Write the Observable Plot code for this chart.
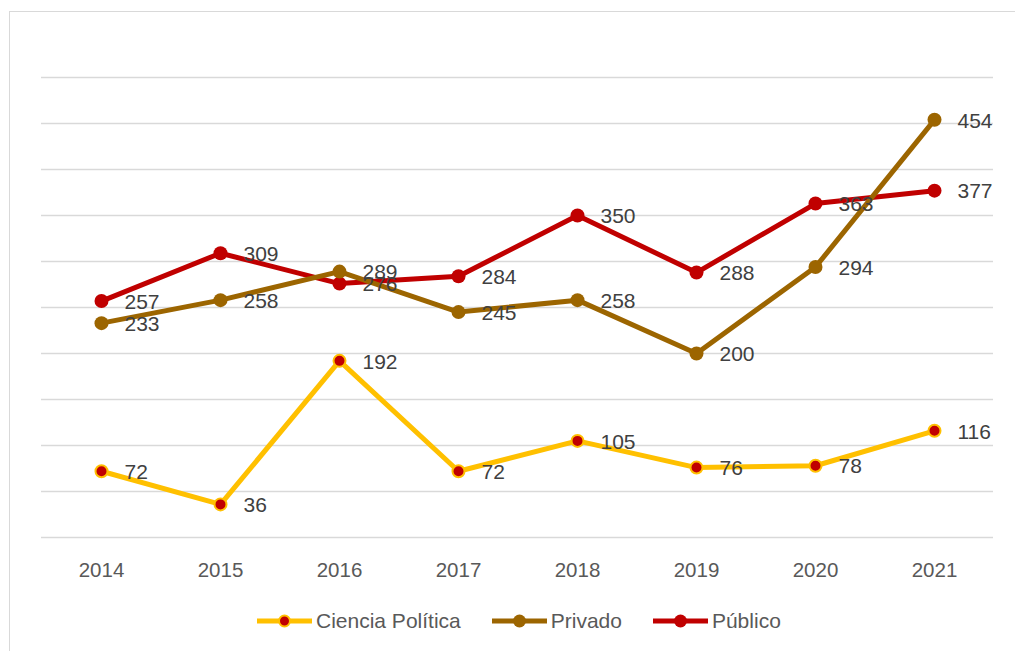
<!DOCTYPE html>
<html>
<head>
<meta charset="utf-8">
<script src="https://cdn.jsdelivr.net/npm/d3@7"></script>
<script src="https://cdn.jsdelivr.net/npm/@observablehq/plot@0.6"></script>
<style>
  html, body { margin: 0; padding: 0; background: #fff; overflow: hidden; }
  body { width: 1015px; height: 651px; position: relative; font-family: "Liberation Sans", Arial, sans-serif; }
  #frame { position: absolute; left: 9px; top: 11px; right: -20px; bottom: -20px; border: 1.5px solid #d9d9d9; }
  #chart { position: absolute; left: 0; top: 0; }
  #legend { position: absolute; left: 257px; top: 609px; display: flex; align-items: center; }
  .item { display: flex; align-items: center; margin-right: 31px; font-size: 21px; color: #595959; }
  .item svg { margin-right: 4px; }
</style>
</head>
<body>
<div id="frame"></div>
<div id="chart"></div>
<div id="legend"></div>
<script>
const years = ["2014", "2015", "2016", "2017", "2018", "2019", "2020", "2021"];
const cienciaPolitica = [72, 36, 192, 72, 105, 76, 78, 116];
const privado = [233, 258, 289, 245, 258, 200, 294, 454];
const publico = [257, 309, 276, 284, 350, 288, 363, 377];
const gridValues = [0, 50, 100, 150, 200, 250, 300, 350, 400, 450, 500];

const seriesNames = ["Ciencia Política", "Privado", "Público"];
const seriesValues = [cienciaPolitica, privado, publico];
const lineColors = ["#FFC000", "#9C6500", "#C00000"];
const markerFill = ["#C00000", "#9C6500", "#C00000"];
const markerStroke = ["#FFC000", "#9C6500", "#C00000"];

const rows = seriesNames.map((name, i) => years.map((year, j) => ({series: name, year, value: seriesValues[i][j]})));

const drawOrder = [0, 2, 1];
const marks = [
  Plot.ruleY(gridValues, {stroke: "#d9d9d9", strokeWidth: 1.5})
];
for (const i of drawOrder) {
  marks.push(Plot.line(rows[i], {x: "year", y: "value", stroke: lineColors[i], strokeWidth: 5}));
  marks.push(Plot.dot(rows[i], {x: "year", y: "value", r: i === 0 ? 6 : 7, fill: markerFill[i], stroke: markerStroke[i], strokeWidth: i === 0 ? 2 : 0}));
}
for (const i of drawOrder) {
  marks.push(Plot.text(rows[i], {x: "year", y: "value", text: d => String(d.value), dx: 23, dy: 1, textAnchor: "start", fill: "#404040", fontSize: 21}));
}
marks.push(Plot.axisX({tickSize: 0, tickPadding: 25, fontSize: 20.5, color: "#595959", label: null}));

const chart = Plot.plot({
  width: 1015,
  height: 590,
  marginLeft: 41,
  marginRight: 22,
  marginTop: 77,
  marginBottom: 53,
  style: {fontFamily: "'Liberation Sans', Arial, sans-serif", background: "transparent", overflow: "visible"},
  x: {type: "point", domain: years, padding: 0.5},
  y: {domain: [0, 500], axis: null},
  marks
});
document.getElementById("chart").appendChild(chart);

const legend = document.getElementById("legend");
seriesNames.forEach((name, i) => {
  const item = document.createElement("div");
  item.className = "item";
  item.innerHTML = `<svg width="55" height="16"><line x1="0" y1="8" x2="55" y2="8" stroke="${lineColors[i]}" stroke-width="5"/><circle cx="27.5" cy="8" r="${i === 0 ? 5.5 : 6.5}" fill="${markerFill[i]}" stroke="${markerStroke[i]}" stroke-width="${i === 0 ? 2 : 0}"/></svg><span>${name}</span>`;
  legend.appendChild(item);
});
</script>
</body>
</html>
